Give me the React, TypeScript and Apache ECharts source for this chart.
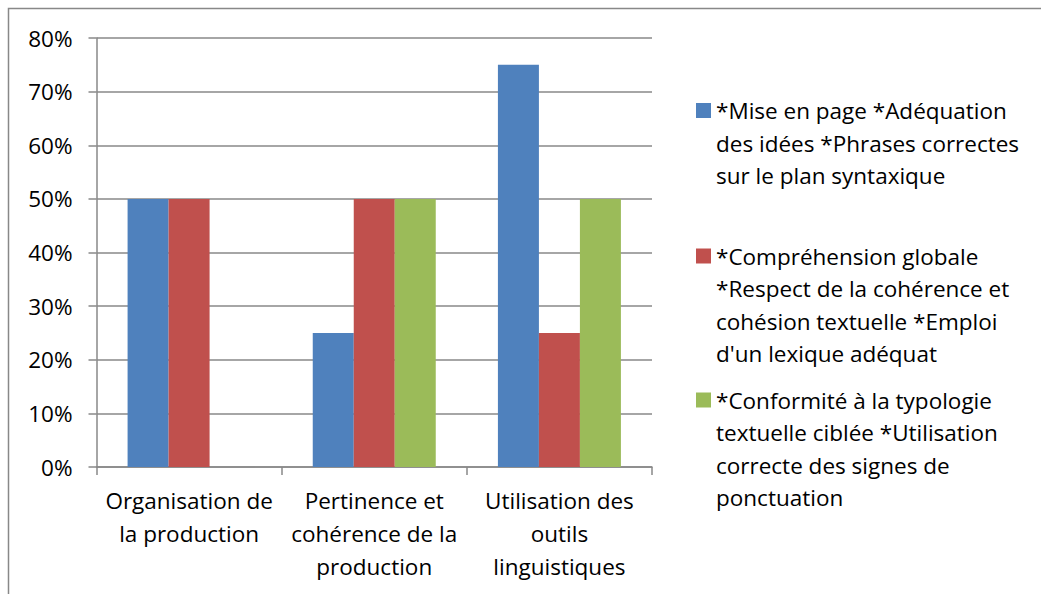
import React, { useEffect, useRef } from "react";
import * as echarts from "echarts";

const categories = [
  "Organisation de\nla production",
  "Pertinence et\ncohérence de la\nproduction",
  "Utilisation des\noutils\nlinguistiques",
];
const seriesNames = [
  "*Mise en page *Adéquation des idées *Phrases correctes sur le plan syntaxique",
  "*Compréhension globale *Respect de la cohérence et cohésion textuelle *Emploi d'un lexique adéquat",
  "*Conformité à la typologie textuelle ciblée *Utilisation correcte des signes de ponctuation",
];
const legendLines = [
  ["*Mise en page *Adéquation", "des idées *Phrases correctes", "sur le plan syntaxique"],
  ["*Compréhension globale", "*Respect de la cohérence et", "cohésion textuelle *Emploi", "d'un lexique adéquat"],
  ["*Conformité à la typologie", "textuelle ciblée *Utilisation", "correcte des signes de", "ponctuation"],
];
const blueValues = [50, 25, 75];
const redValues = [50, 50, 25];
const greenValues = [0, 50, 50];
const colors = ["#4F81BD", "#C0504D", "#9BBB59"];
const yTicks = { min: 0, max: 80, interval: 10 };

const FONT = "Open Sans";
const FS = 22.5;
const LH = 32.5;
const iconCenters = [110.5, 256, 400];

export default function App() {
  const ref = useRef<HTMLDivElement>(null);
  useEffect(() => {
    if (!ref.current) return;
    const chart = echarts.init(ref.current, null, { renderer: "svg" });
    const values = [blueValues, redValues, greenValues];
    const legends = seriesNames.map((name, i) => {
      const n = legendLines[i].length;
      return {
        data: [name],
        left: 696,
        top: iconCenters[i] - ((2 * n - 1) * LH) / 2,
        orient: "vertical",
        icon: "rect",
        itemWidth: 15,
        itemHeight: 15,
        padding: 0,
        selectedMode: false,
        formatter: () => "\n".repeat(n - 1) + legendLines[i].join("\n"),
        textStyle: {
          fontFamily: FONT,
          fontSize: FS,
          color: "#000",
          lineHeight: LH,
        },
      };
    });
    chart.setOption({
      animation: false,
      backgroundColor: "#fff",
      color: colors,
      grid: { left: 96.5, right: 389, top: 38, bottom: 127, containLabel: false },
      legend: legends,
      xAxis: {
        type: "category",
        data: categories,
        axisLine: { show: true, lineStyle: { color: "#888", width: 1.5 } },
        axisTick: { show: true, length: 8, lineStyle: { color: "#888", width: 1.5 } },
        axisLabel: {
          fontFamily: FONT,
          fontSize: FS,
          color: "#000",
          lineHeight: 33,
          margin: 17,
          interval: 0,
        },
        splitLine: { show: false },
      },
      yAxis: {
        type: "value",
        min: yTicks.min,
        max: yTicks.max,
        interval: yTicks.interval,
        axisLine: { show: true, lineStyle: { color: "#888", width: 1.5 } },
        axisTick: { show: true, length: 8, lineStyle: { color: "#888", width: 1.5 } },
        axisLabel: {
          formatter: "{value}%",
          fontFamily: FONT,
          fontSize: FS,
          color: "#000",
          margin: 24,
        },
        splitLine: { show: true, lineStyle: { color: "#888", width: 1.5 } },
      },
      series: seriesNames.map((name, i) => ({
        name,
        type: "bar",
        data: values[i],
        barWidth: 41,
        barGap: "0%",
        itemStyle: { color: colors[i] },
      })),
      graphic: [
        {
          type: "rect",
          shape: { x: 8.5, y: 8.5, width: 1200, height: 800 },
          style: { fill: "none", stroke: "#888", lineWidth: 1.5 },
          silent: true,
        },
      ],
    });
    return () => chart.dispose();
  }, []);
  return (
    <div
      ref={ref}
      style={{ position: "fixed", left: 0, top: 0, width: 1041, height: 594 }}
    />
  );
}
